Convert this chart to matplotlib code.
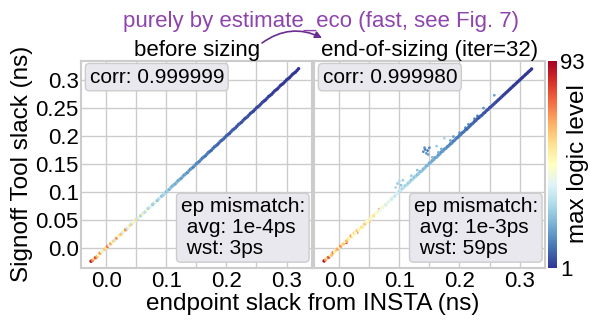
import matplotlib
matplotlib.use('Agg')
import matplotlib.pyplot as plt

plt.rcParams['font.family'] = ['Liberation Sans', 'DejaVu Sans']

# endpoint slack from INSTA (ns), same endpoints in both panels
insta_slack = [-0.025, -0.0225, -0.02, -0.0175, -0.015, -0.0125, -0.01, -0.0075, -0.005, -0.0025,
               0.0, 0.0025, 0.005, 0.0075, 0.01, 0.0125, 0.015, 0.0175, 0.02, 0.0225,
               0.025, 0.0275, 0.03, 0.0325, 0.035, 0.0375, 0.04, 0.0425, 0.045, 0.0475,
               0.05, 0.0525, 0.055, 0.0575, 0.06, 0.0625, 0.065, 0.0675, 0.07, 0.0725,
               0.075, 0.0775, 0.08, 0.0825, 0.085, 0.0875, 0.09, 0.0925, 0.095, 0.0975,
               0.1, 0.1025, 0.105, 0.1075, 0.11, 0.1125, 0.115, 0.1175, 0.12, 0.1225,
               0.125, 0.1275, 0.13, 0.1325, 0.135, 0.1375, 0.14, 0.1425, 0.145, 0.1475,
               0.15, 0.1525, 0.155, 0.1575, 0.16, 0.1625, 0.165, 0.1675, 0.17, 0.1725,
               0.175, 0.1775, 0.18, 0.1825, 0.185, 0.1875, 0.19, 0.1925, 0.195, 0.1975,
               0.2, 0.2025, 0.205, 0.2075, 0.21, 0.2125, 0.215, 0.2175, 0.22, 0.2225,
               0.225, 0.2275, 0.23, 0.2325, 0.235, 0.2375, 0.24, 0.2425, 0.245, 0.2475,
               0.25, 0.2525, 0.255, 0.2575, 0.26, 0.2625, 0.265, 0.2675, 0.27, 0.2725,
               0.275, 0.2775, 0.28, 0.2825, 0.285, 0.2875, 0.29, 0.2925, 0.295, 0.2975,
               0.3, 0.3025, 0.305, 0.3075, 0.31, 0.3125, 0.315, 0.3175, 0.32]

# before sizing: signoff slack (ns) and max logic level
signoff_before = [-0.024, -0.0225, -0.0195, -0.0175, -0.0155, -0.0125, -0.0095, -0.0075, -0.0055, -0.0025,
                  0.0005, 0.0025, 0.0045, 0.0075, 0.0105, 0.0125, 0.0145, 0.0175, 0.0205, 0.0225,
                  0.0245, 0.0275, 0.0305, 0.0325, 0.0345, 0.0375, 0.0405, 0.0425, 0.0445, 0.0475,
                  0.0505, 0.0525, 0.0545, 0.0575, 0.0605, 0.0625, 0.0645, 0.0675, 0.0705, 0.0725,
                  0.0745, 0.0775, 0.0805, 0.0825, 0.0845, 0.0875, 0.0905, 0.0925, 0.0945, 0.0975,
                  0.1005, 0.1025, 0.1045, 0.1075, 0.1105, 0.1125, 0.1145, 0.1175, 0.1205, 0.1225,
                  0.1245, 0.1275, 0.1305, 0.1325, 0.1345, 0.1375, 0.1405, 0.1425, 0.1445, 0.1475,
                  0.1505, 0.1525, 0.1545, 0.1575, 0.1605, 0.1625, 0.1645, 0.1675, 0.1705, 0.1725,
                  0.1745, 0.1775, 0.1805, 0.1825, 0.1845, 0.1875, 0.1905, 0.1925, 0.1945, 0.1975,
                  0.2005, 0.2025, 0.2045, 0.2075, 0.2105, 0.2125, 0.2145, 0.2175, 0.2205, 0.2225,
                  0.2245, 0.2275, 0.2305, 0.2325, 0.2345, 0.2375, 0.2405, 0.2425, 0.2445, 0.2475,
                  0.2505, 0.2525, 0.2545, 0.2575, 0.2605, 0.2625, 0.2645, 0.2675, 0.2705, 0.2725,
                  0.2745, 0.2775, 0.2805, 0.2825, 0.2845, 0.2875, 0.2905, 0.2925, 0.2945, 0.2975,
                  0.3005, 0.3025, 0.3045, 0.3075, 0.3105, 0.3125, 0.3145, 0.3175, 0.3205]
level_before = [90, 72, 58, 80, 64, 47, 70, 52, 40, 61,
                55, 74, 38, 66, 48, 59, 35, 69, 44, 53,
                62, 36, 50, 71, 33, 45, 57, 30, 49, 40,
                58, 32, 42, 28, 51, 36, 30, 46, 27, 34,
                40, 26, 31, 45, 25, 29, 36, 24, 27, 30,
                23, 28, 21, 25, 20, 23, 19, 22, 18, 21,
                17, 20, 16, 19, 15, 18, 14, 17, 13, 16,
                13, 15, 12, 14, 11, 13, 10, 12, 11, 10,
                9, 11, 8, 10, 9, 8, 10, 7, 9, 8,
                7, 8, 6, 7, 8, 6, 7, 5, 6, 7,
                5, 6, 5, 4, 6, 5, 4, 5, 3, 4,
                4, 3, 5, 3, 4, 3, 2, 4, 3, 2,
                3, 2, 3, 2, 1, 3, 2, 1, 2, 2,
                1, 2, 1, 1, 2, 1, 1, 1, 1]

# end-of-sizing (iter=32)
signoff_after = [-0.0235, -0.0215, -0.0185, -0.017, -0.0135, -0.013, -0.0085, -0.008, -0.004, -0.002,
                 0.0015, 0.003, 0.006, 0.007, 0.0115, 0.012, 0.016, 0.0175, 0.0215, 0.022,
                 0.0265, 0.027, 0.031, 0.032, 0.0365, 0.037, 0.041, 0.0425, 0.0465, 0.047,
                 0.0515, 0.052, 0.056, 0.0575, 0.0615, 0.062, 0.066, 0.0675, 0.0715, 0.072,
                 0.0765, 0.077, 0.081, 0.0825, 0.0865, 0.087, 0.091, 0.0925, 0.0965, 0.097,
                 0.1015, 0.103, 0.106, 0.108, 0.1115, 0.1125, 0.116, 0.118, 0.1215, 0.123,
                 0.1265, 0.128, 0.131, 0.133, 0.1365, 0.1375, 0.141, 0.143, 0.1465, 0.148,
                 0.1515, 0.153, 0.156, 0.158, 0.1615, 0.1625, 0.166, 0.168, 0.1715, 0.173,
                 0.1765, 0.178, 0.181, 0.183, 0.186, 0.1875, 0.191, 0.193, 0.196, 0.198,
                 0.201, 0.203, 0.206, 0.208, 0.211, 0.2125, 0.2155, 0.218, 0.221, 0.223,
                 0.226, 0.228, 0.231, 0.233, 0.2355, 0.2375, 0.2405, 0.2425, 0.2455, 0.2475,
                 0.2505, 0.2525, 0.255, 0.2575, 0.26, 0.2625, 0.265, 0.2675, 0.27, 0.2725,
                 0.275, 0.2775, 0.28, 0.2825, 0.285, 0.2875, 0.29, 0.2925, 0.295, 0.2975,
                 0.3, 0.3025, 0.305, 0.3075, 0.31, 0.3125, 0.315, 0.3175, 0.32]
level_after = [92, 68, 55, 78, 48, 62, 72, 50, 58, 66,
               45, 70, 52, 60, 42, 64, 55, 48, 68, 46,
               58, 44, 62, 50, 47, 56, 43, 60, 49, 45,
               52, 42, 48, 55, 40, 46, 50, 38, 44, 41,
               47, 36, 42, 39, 45, 35, 40, 33, 38, 36,
               30, 34, 28, 32, 27, 31, 26, 29, 25, 28,
               24, 27, 23, 26, 22, 25, 21, 24, 20, 22,
               19, 21, 18, 20, 17, 19, 16, 18, 15, 17,
               14, 16, 13, 15, 12, 14, 11, 13, 12, 11,
               10, 12, 9, 11, 10, 8, 10, 9, 8, 9,
               7, 8, 7, 6, 8, 6, 7, 5, 6, 5,
               5, 4, 6, 4, 5, 3, 4, 3, 4, 3,
               3, 2, 3, 2, 2, 3, 1, 2, 2, 1,
               2, 1, 1, 2, 1, 1, 1, 1, 1]

# endpoints that drift off the diagonal after sizing
insta_off = [0.0, 0.012, 0.022, 0.03, 0.04, 0.05, 0.058, 0.067, 0.078, 0.088,
             0.094, 0.097, 0.1, 0.103, 0.106,
             0.14, 0.143, 0.145, 0.147, 0.15, 0.142, 0.148,
             0.162, 0.175, 0.13, 0.155, 0.17, 0.185, 0.2, 0.215, 0.23, 0.24,
             0.258, 0.12, 0.165, 0.19, 0.21, 0.225]
signoff_off = [-0.003, 0.009, 0.018, 0.027, 0.037, 0.047, 0.056, 0.069, 0.076, 0.09,
               0.108, 0.115, 0.119, 0.112, 0.121,
               0.172, 0.176, 0.169, 0.174, 0.179, 0.179, 0.167,
               0.182, 0.196, 0.139, 0.162, 0.177, 0.192, 0.206, 0.221, 0.236, 0.25,
               0.273, 0.129, 0.171, 0.199, 0.215, 0.231]
level_off = [35, 80, 42, 70, 50, 65, 46, 75, 48, 36,
             28, 26, 30, 24, 27,
             14, 12, 16, 11, 13, 15, 18,
             26, 28, 24, 22, 20, 18, 16, 14, 12, 16,
             18, 26, 21, 17, 15, 13]

titles = ['before sizing', 'end-of-sizing (iter=32)']
corr_text = ['corr: 0.999999', 'corr: 0.999980']
mismatch_text = ['ep mismatch:\n avg: 1e-4ps\n wst: 3ps',
                 'ep mismatch:\n avg: 1e-3ps\n wst: 59ps']

xticks = [0.0, 0.05, 0.1, 0.15, 0.2, 0.25, 0.3]
xticklabels = ['0.0', '', '0.1', '', '0.2', '', '0.3']
yticks = [0.0, 0.05, 0.1, 0.15, 0.2, 0.25, 0.3]
yticklabels = ['0.0', '0.05', '0.1', '0.15', '0.2', '0.25', '0.3']

fig = plt.figure(figsize=(5.9, 3.24), dpi=100)
ax1 = fig.add_axes([0.138, 0.173, 0.3915, 0.64])
ax2 = fig.add_axes([0.533, 0.173, 0.3915, 0.64])
cax = fig.add_axes([0.9288, 0.173, 0.0153, 0.64])

norm = plt.Normalize(1, 93)
ax1.scatter(insta_slack, signoff_before, c=level_before, cmap='RdYlBu_r', norm=norm,
            s=6, linewidths=0)
ax2.scatter(insta_off, signoff_off, c=level_off, cmap='RdYlBu_r', norm=norm,
            s=4, linewidths=0)
sc = ax2.scatter(insta_slack, signoff_after, c=level_after, cmap='RdYlBu_r', norm=norm,
                 s=6, linewidths=0)

for i, ax in enumerate([ax1, ax2]):
    ax.set_xlim(-0.041, 0.343)
    ax.set_ylim(-0.036, 0.335)
    ax.set_xticks(xticks)
    ax.set_xticklabels(xticklabels)
    ax.set_yticks(yticks)
    ax.set_yticklabels(yticklabels)
    ax.grid(True, color='#cccccc', lw=1.0)
    ax.set_axisbelow(True)
    for sp in ax.spines.values():
        sp.set_color('#cccccc')
        sp.set_linewidth(1.5)
    ax.tick_params(length=0, labelsize=16, pad=2)
    ax.set_title(titles[i], fontsize=16, pad=2)
    box = dict(boxstyle='round,pad=0.2', fc='#e8e8ee', ec='#cccccc')
    ax.text(0.035, 0.966, corr_text[i], transform=ax.transAxes, ha='left', va='top',
            fontsize=15, bbox=box)
    ax.text(0.9675, 0.048, mismatch_text[i], transform=ax.transAxes, ha='right',
            va='bottom', multialignment='left', linespacing=1.12, fontsize=15, bbox=box)
ax2.set_yticklabels([])

cb = fig.colorbar(sc, cax=cax, ticks=[1, 93])
cb.outline.set_visible(False)
cax.tick_params(length=0, labelsize=16, pad=2)

fig.text(22 / 590, 0.495, 'Signoff Tool slack (ns)', rotation=90, fontsize=17.5,
         ha='center', va='center')
fig.text(312.5 / 590, 0.062, 'endpoint slack from INSTA (ns)', fontsize=17.5,
         ha='center', va='center')
fig.text(578 / 590, 0.495, 'max logic level', rotation=90, fontsize=17.5,
         ha='center', va='center')

fig.text(321 / 590, 1 - 21.5 / 324, 'purely by estimate_eco (fast, see Fig. 7)',
         color='#8e44ad', fontsize=16, ha='center', va='center')
ax1.annotate('', xy=(322 / 590, 1 - 38 / 324), xytext=(262 / 590, 1 - 43 / 324),
             xycoords='figure fraction', textcoords='figure fraction',
             annotation_clip=False,
             arrowprops=dict(arrowstyle='-|>', color='#6a2c91', lw=1.2,
                             connectionstyle='arc3,rad=-0.3', shrinkA=0, shrinkB=0,
                             mutation_scale=10))

fig.savefig('out.png', dpi=100)
